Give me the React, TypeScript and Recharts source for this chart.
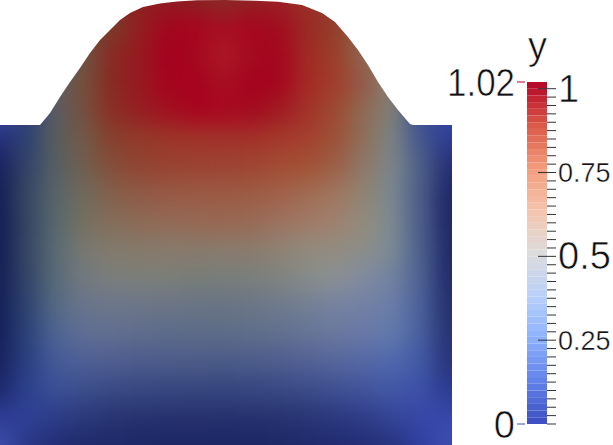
import React from "react";
import { Area, AreaChart, Bar, BarChart, Scatter, ScatterChart, XAxis, YAxis } from "recharts";

const columnX = [0, 28, 56, 84, 112, 140, 168, 196, 224, 252, 280, 308, 336, 364, 392, 420, 448];
const rowY = [0, 28, 56, 84, 112, 140, 168, 196, 224, 252, 280, 308, 336, 364, 392, 420, 448];

const row000 = ["#3e4aa6","#5a6070","#5f5e5f","#6e4c3c","#7a3a2a","#8c1f22","#8f1c22","#8a2023","#8a2a26","#8e2224","#9a2024","#9a3028","#923e2c","#8d6650","#8a8070","#3c4c96","#3a47a4"];
const row028 = ["#3e4aa6","#5a6070","#5f5e5f","#6e4c3c","#7a3a2a","#931e20","#a3061f","#a8051f","#a60f22","#a8051f","#a20c20","#9a2a25","#923e2c","#8d6650","#8a8070","#3c4c96","#3a47a4"];
const row056 = ["#3e4aa6","#5a6070","#5f5e5f","#6b5443","#8a2a22","#951a20","#a5001f","#a5081f","#ab1a26","#a40a20","#a3061f","#a02a24","#9a4028","#8d6650","#8a8070","#3c4c96","#3a47a4"];
const row084 = ["#3e4aa6","#5a6070","#5f5e5f","#75503c","#872a22","#951a20","#a6041f","#a6021f","#a70f22","#a6021f","#a6051f","#a42a25","#a03e2b","#94594a","#8a8070","#3c4c96","#3a47a4"];
const row112 = ["#3e4aa6","#2f3f7c","#5b5d63","#745040","#8a2f24","#961e22","#a1101f","#a8041f","#a80820","#a40a20","#a01a22","#a2332a","#9d4a30","#8f6a55","#808075","#3c4c96","#3a47a4"];
const row140 = ["#242f7c","#2d4270","#585e5e","#705a48","#87402e","#923a2a","#9a3628","#9f3329","#a0322a","#a23229","#a4392b","#a4402d","#9c5239","#8e6f5a","#7c8484","#44588c","#2e3c94"];
const row168 = ["#18225e","#344468","#566064","#6f5f4e","#844e3a","#914432","#984333","#9b4333","#9c4434","#9e4633","#a24d33","#a25235","#9c5f48","#8e7868","#7c8688","#4e6188","#242f74"];
const row196 = ["#141e56","#384864","#586468","#706a5c","#83604c","#8f5a46","#965a44","#995a44","#9b5a44","#9c5c44","#a0604a","#a06c52","#a07660","#8f8474","#7b8890","#4c5e88","#1e2868"];
const row224 = ["#131d54","#364664","#586870","#74705f","#846d5a","#8c6a56","#926a56","#966954","#986852","#986a54","#9c7260","#a07a66","#a0806f","#928b7c","#7d8a90","#4d5f8a","#1e2866"];
const row252 = ["#131d54","#364766","#5a6a72","#787872","#827a6c","#857a6a","#877a6c","#877a6c","#887b6e","#8a7c6e","#8e8274","#918a7c","#928c80","#8c8e88","#7c8a96","#4e618e","#1f2a68"];
const row280 = ["#141e56","#334668","#596a78","#72797e","#7a7e7c","#7b7e7a","#7b7e78","#787d78","#787e7a","#7a7f7c","#7f8380","#868c8a","#8a9094","#808ba0","#7282a0","#4f6394","#212b6a"];
const row308 = ["#141f57","#2f4470","#556a84","#69748c","#6c768a","#6c7688","#6b7586","#697484","#687484","#6a7686","#6e7a8c","#737f94","#7682a0","#7280a4","#6b7ea8","#4c629c","#24306e"];
const row336 = ["#151f5a","#2c4378","#4f6494","#5f6e94","#616e90","#5f6c8c","#5d6b8a","#5d6b88","#5d6c88","#5f6e8a","#626f8e","#667496","#6a789e","#6878a6","#627aac","#4a60a0","#263272"];
const row364 = ["#17225e","#2b4082","#455a98","#4e6096","#505e90","#4d5c8c","#4c5c8a","#4c5c88","#4b5b88","#4c5c8a","#4f5e8e","#536294","#55669c","#5568a4","#5068ac","#425aa6","#28347a"];
const row392 = ["#1c286c","#2d418d","#3b5096","#3c4e8c","#3a4a85","#384881","#37477f","#37467e","#36467e","#374780","#394983","#3c4c8a","#3f5092","#43549c","#4358a6","#3e50a8","#2c3a90"];
const row420 = ["#2e3c92","#2e4096","#2d3d86","#2b397c","#283574","#273370","#26326f","#26326e","#25316e","#26326f","#273371","#293676","#2c397e","#2f3d88","#354596","#3747a8","#3747aa"];
const row448 = ["#3e4cae","#2a3886","#222e76","#1e2a6a","#1d2968","#1c2867","#1c2766","#1c2766","#1c2766","#1c2766","#1d2867","#1e2a6c","#202c70","#232e76","#27337e","#2f3f9e","#3e4cb0"];
const surfaceRows = [row000,row028,row056,row084,row112,row140,row168,row196,row224,row252,row280,row308,row336,row364,row392,row420,row448];

const outlineX = [0,40,50,60,70,80,90,100,110,120,130,143,160,177,197,225,255,278,302,322,335,348,358,368,378,388,398,410,413,452];
const outlineY = [125,125,113,97,82,68,53,40,30,20,13,7,3.5,1.5,0.3,0,0.7,1.7,5,13,22,37,50,65,82,97,110,124,125,125];

const bandValues = [0.01,0.03,0.05,0.07,0.09,0.11,0.13,0.15,0.17,0.19,0.21,0.23,0.25,0.27,0.29,0.31,0.33,0.35,0.37,0.39,0.41,0.43,0.45,0.47,0.49,0.51,0.53,0.55,0.57,0.59,0.61,0.63,0.65,0.67,0.69,0.71,0.73,0.75,0.77,0.79,0.81,0.83,0.85,0.87,0.89,0.91,0.93,0.95,0.97,0.99,1.01];
const bandWidth = 0.02;
const stopValues = [0,0.125,0.25,0.375,0.5,0.625,0.75,0.875,1];
const stopColors = [[59,76,192],[98,130,234],[141,176,254],[185,208,249],[221,220,220],[245,196,172],[244,154,123],[217,88,71],[180,4,38]];
const scaleTicks = [0,0.025,0.05,0.075,0.1,0.125,0.15,0.175,0.2,0.225,0.25,0.275,0.3,0.325,0.35,0.375,0.4,0.425,0.45,0.475,0.5,0.525,0.55,0.575,0.6,0.625,0.65,0.675,0.7,0.725,0.75,0.775,0.8,0.825,0.85,0.875,0.9,0.925,0.95,0.975,1,1.02];
const majorLabels: Record<string, string> = { "0.25": "0.25", "0.5": "0.5", "0.75": "0.75", "1": "1" };
const title = "y";

const FONT = "'Liberation Sans', sans-serif";
const bigText = { fontFamily: FONT, fontSize: 38, fill: "#111", stroke: "#fff", strokeWidth: 0.6 };
const smallText = { fontFamily: FONT, fontSize: 27, fill: "#111", stroke: "#fff", strokeWidth: 0.4 };

function bandColor(v: number) {
  const t = v / 1.02;
  let i = 0;
  while (i < stopValues.length - 2 && t > stopValues[i + 1]) i++;
  const f = (t - stopValues[i]) / (stopValues[i + 1] - stopValues[i]);
  const c = stopColors[i].map((a, k) => Math.round(a + (stopColors[i + 1][k] - a) * f));
  return `rgb(${c[0]},${c[1]},${c[2]})`;
}

const heatCells = surfaceRows.flatMap((row, r) => row.map((fill, c) => ({ x: columnX[c], y: rowY[r], fill })));
const outline = outlineX.map((x, i) => ({ x, top: outlineY[i] }));
const bandRow: Record<string, number | string> = { name: title };
bandValues.forEach((_, i) => { bandRow[`b${i}`] = bandWidth; });
const tickRow = [{ name: title, none: 0 }];

const BLEED = 50;
function HeatCell(props: any) {
  const p = props.payload;
  const left = p.x === columnX[0] ? BLEED : 0;
  const right = p.x === columnX[columnX.length - 1] ? BLEED : 0;
  const top = p.y === rowY[0] ? BLEED : 0;
  const bottom = p.y === rowY[rowY.length - 1] ? BLEED : 0;
  return <rect x={props.cx - 14.5 - left} y={props.cy - 14.5 - top} width={29 + left + right} height={29 + top + bottom} fill={props.fill} />;
}

function ScaleTick(props: any) {
  const value = props.payload.value;
  if (value === 0 || value === 1.02) {
    return (
      <g>
        {value === 0 ? <line x1={props.x} x2={props.x + 9} y1={props.y} y2={props.y} stroke="#333" /> : null}
        <line x1={props.x - 30} x2={props.x - 22} y1={props.y} y2={props.y} stroke={value === 0 ? "#3b4cc0" : "#b40426"} />
        <text x={props.x - 32} y={props.y + 13.5} textAnchor="end" {...bigText} textLength={value === 0 ? undefined : 68} lengthAdjust="spacingAndGlyphs">{String(value)}</text>
      </g>
    );
  }
  const label = majorLabels[String(value)];
  const big = value === 1 || value === 0.5;
  return (
    <g>
      <line x1={label ? props.x - 9 : props.x} x2={props.x + 9} y1={props.y} y2={props.y} stroke="#333" />
      {label ? (
        <text x={props.x + 11} y={props.y + (big ? 13 : 9.5)} {...(big ? bigText : smallText)}>{label}</text>
      ) : null}
    </g>
  );
}

const layer = { position: "absolute", top: 0 } as const;
const barMargin = { top: 82, right: 0, bottom: 21, left: 87 };

export default function App() {
  return (
    <div style={{ position: "absolute", left: 0, top: 0, width: 613, height: 445, background: "#fff", overflow: "hidden" }}>
      <style>{`.heat .recharts-scatter { filter: url(#soft); }`}</style>
      <svg width={0} height={0} style={{ position: "absolute" }}>
        <defs>
          <filter id="soft" x="0" y="0" width="1" height="1" colorInterpolationFilters="sRGB">
            <feGaussianBlur stdDeviation={11} edgeMode="duplicate" />
          </filter>
        </defs>
      </svg>
      <div className="heat" style={{ ...layer, left: 0, width: 452, height: 445, overflow: "hidden" }}>
        <ScatterChart width={452} height={445} margin={{ top: 0, right: 0, bottom: 0, left: 0 }}>
          <XAxis type="number" dataKey="x" domain={[0, 452]} hide />
          <YAxis type="number" dataKey="y" domain={[0, 445]} reversed hide />
          <Scatter data={heatCells} shape={HeatCell} isAnimationActive={false} />
        </ScatterChart>
      </div>
      <div style={{ ...layer, left: 0, width: 452, height: 445 }}>
        <AreaChart width={452} height={445} data={outline} margin={{ top: 0, right: 0, bottom: 0, left: 0 }}>
          <XAxis type="number" dataKey="x" domain={[0, 452]} hide />
          <YAxis type="number" domain={[0, 445]} reversed hide />
          <Area type="linear" dataKey="top" baseValue={0} stroke="none" fill="#fff" fillOpacity={1} isAnimationActive={false} dot={false} activeDot={false} />
        </AreaChart>
      </div>
      <div style={{ ...layer, left: 440, width: 173, height: 445 }}>
        <BarChart width={173} height={445} data={[bandRow]} barCategoryGap={0} margin={barMargin}>
          <XAxis dataKey="name" hide />
          <YAxis orientation="right" width={66} type="number" domain={[0, 1.02]} tick={false} tickLine={false} axisLine={false} />
          {bandValues.map((v, i) => (
            <Bar key={i} dataKey={`b${i}`} stackId="bar" fill={bandColor(v)} isAnimationActive={false} />
          ))}
        </BarChart>
      </div>
      <div style={{ ...layer, left: 440, width: 173, height: 445 }}>
        <BarChart width={173} height={445} data={tickRow} barCategoryGap={0} margin={barMargin}>
          <XAxis dataKey="name" hide />
          <YAxis orientation="right" width={66} type="number" domain={[0, 1.02]} ticks={scaleTicks} tick={ScaleTick} tickLine={false} tickSize={0} tickMargin={0} axisLine={false} interval={0}
            label={{ content: () => <text x={88} y={59} {...bigText}>{title}</text> }} />
          <Bar dataKey="none" fill="none" isAnimationActive={false} />
        </BarChart>
      </div>
    </div>
  );
}
